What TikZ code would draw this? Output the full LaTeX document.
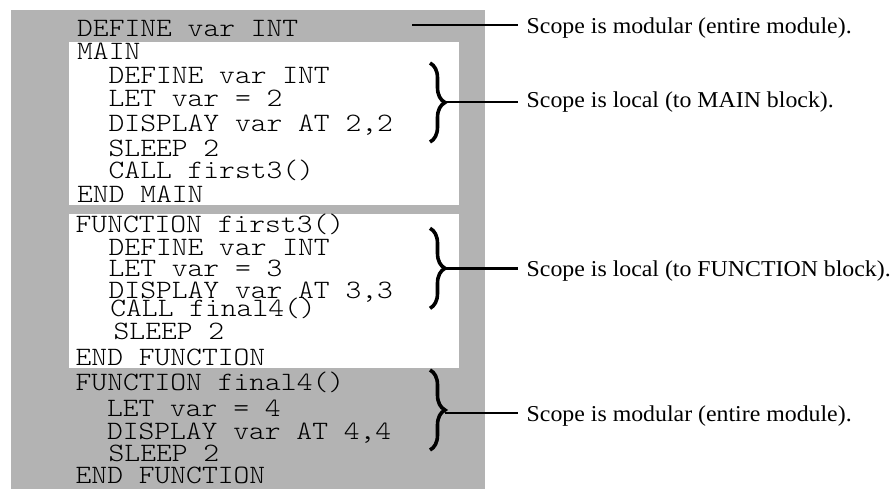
\documentclass[tikz,border=0pt]{standalone}
\usepackage{fontspec}
\usetikzlibrary{decorations.pathreplacing}
\IfFontExistsTF{lmmonolt10-regular.otf}
  {\newfontfamily\codefont[FakeStretch=1.135]{lmmonolt10-regular.otf}}
  {\newfontfamily\codefont[FakeStretch=1.135]{lmmono10-regular.otf}}
\newfontfamily\labfont[FakeStretch=1.05]{Liberation Serif}
\definecolor{modgray}{RGB}{179,179,179}
\tikzset{
  code/.style={anchor=base west, inner sep=0pt, font=\codefont\fontsize{26.5}{30}\selectfont},
  lab/.style={anchor=base west, inner ysep=0pt, inner xsep=8.5pt, font=\labfont\fontsize{22.7}{26}\selectfont},
  bracestyle/.style={decorate, decoration={brace, amplitude=15pt}, line width=3.6pt},
  conn/.style={line width=2.4pt}
}
\begin{document}
\begin{tikzpicture}[x=1pt,y=-1pt]
\useasboundingbox (0,0) rectangle (893,490);
% panels
\fill[modgray] (11,10) rectangle (485,488.5);
\fill[white] (68.5,41.7) rectangle (459,205);
\fill[white] (68.5,214) rectangle (459,368.3);
% module level
\node[code] (t1) at (77,36) {DEFINE var INT};
% MAIN
\node[code] (m1) at (77,59) {MAIN};
\node[code] (m2) at (108.5,83.3) {DEFINE var INT};
\node[code] (m3) at (108.5,106.7) {LET var = 2};
\node[code] (m4) at (108.5,131.7) {DISPLAY var AT 2,2};
\node[code] (m5) at (108.5,156.7) {SLEEP 2};
\node[code] (m6) at (108.5,178.3) {CALL first3()};
\node[code] (m7) at (77,202.7) {END MAIN};
% first3
\node[code] (f1) at (75.5,232.7) {FUNCTION first3()};
\node[code] (f2) at (108.5,255) {DEFINE var INT};
\node[code] (f3) at (108.5,276.7) {LET var = 3};
\node[code] (f4) at (108.5,298.3) {DISPLAY var AT 3,3};
\node[code] (f5) at (110.2,316.7) {CALL final4()};
\node[code] (f6) at (113.5,339.3) {SLEEP 2};
\node[code] (f7) at (75.5,365) {END FUNCTION};
% final4
\node[code] (g1) at (75.5,390.7) {FUNCTION final4()};
\node[code] (g2) at (106.8,416.7) {LET var = 4};
\node[code] (g3) at (106.8,439.3) {DISPLAY var AT 4,4};
\node[code] (g4) at (108.5,461.7) {SLEEP 2};
\node[code] (g5) at (75.5,483.3) {END FUNCTION};
% labels
\node[lab] (l1) at (518,33.3) {Scope is modular (entire module).};
\node[lab] (l2) at (518,107.3) {Scope is local (to MAIN block).};
\node[lab] (l3) at (518,276) {Scope is local (to FUNCTION block).};
\node[lab] (l4) at (518,421.7) {Scope is modular (entire module).};
% braces
\coordinate (b1a) at (430,63);
\coordinate (b1b) at (430,142);
\coordinate (b1t) at (445,101.7);
\coordinate (b2a) at (430,228.3);
\coordinate (b2b) at (430,308.3);
\coordinate (b2t) at (445,268.3);
\coordinate (b3a) at (430,370);
\coordinate (b3b) at (430,450);
\coordinate (b3t) at (445,413);
\coordinate (t1e) at (412,25);
\draw[bracestyle] (b1a) -- (b1b);
\draw[bracestyle] (b2a) -- (b2b);
\draw[bracestyle] (b3a) -- (b3b);
% connectors
\draw[conn] (t1e) -- (t1e -| l1.west);
\draw[conn] (b1t) -- (b1t -| l2.west);
\draw[conn] (b2t) -- (b2t -| l3.west);
\draw[conn] (b3t) -- (b3t -| l4.west);
\end{tikzpicture}
\end{document}
